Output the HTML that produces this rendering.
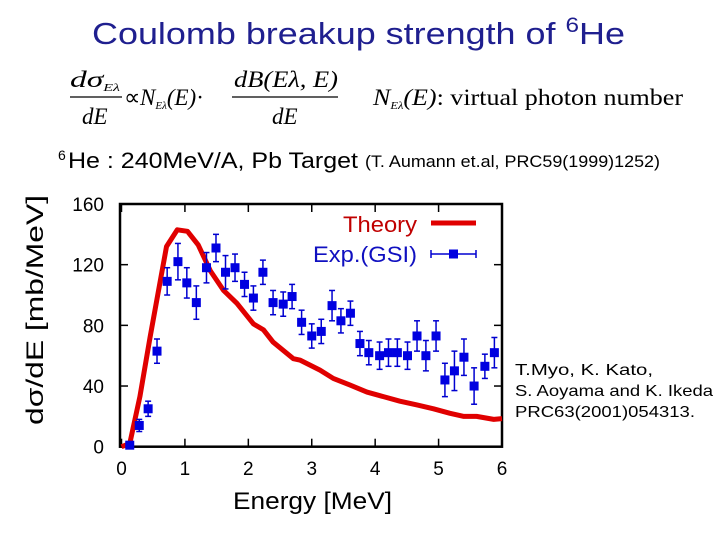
<!DOCTYPE html>
<html><head><meta charset="utf-8"><style>
html,body{margin:0;padding:0;background:#fff;}
svg{display:block;font-family:"Liberation Sans",sans-serif;}
.m{font-family:"Liberation Serif",serif;}
</style></head><body>
<svg id="c" width="720" height="540" viewBox="0 0 720 540">
<text x="92" y="44" font-size="31" fill="#1f1f8f" textLength="533" lengthAdjust="spacingAndGlyphs">Coulomb breakup strength of <tspan font-size="21" dy="-12">6</tspan><tspan dy="12">He</tspan></text>
<g class="m" font-size="23" font-style="italic">
<text x="70" y="87" textLength="50" lengthAdjust="spacingAndGlyphs">dσ<tspan font-size="11" dy="4">Eλ</tspan></text>
<line x1="70" y1="97" x2="122" y2="97" stroke="#000" stroke-width="1.3"/>
<text x="82" y="124">dE</text>
<text x="124" y="105" font-style="normal">∝</text>
<text x="140" y="105">N<tspan font-size="11" dy="4">Eλ</tspan><tspan dy="-4">(E)</tspan><tspan font-style="normal">·</tspan></text>
<text x="234" y="87" textLength="104" lengthAdjust="spacingAndGlyphs">dB(Eλ, E)</text>
<line x1="232" y1="97" x2="338" y2="97" stroke="#000" stroke-width="1.3"/>
<text x="272" y="124">dE</text>
<text x="373" y="105" textLength="310" lengthAdjust="spacingAndGlyphs">N<tspan font-size="11" dy="4">Eλ</tspan><tspan dy="-4">(E)</tspan><tspan font-style="normal">: virtual photon number</tspan></text>
</g>
<text x="58" y="160" font-size="14">6</text>
<text x="68" y="168" font-size="22" textLength="290" lengthAdjust="spacingAndGlyphs">He : 240MeV/A,  Pb Target</text>
<text x="365" y="167" font-size="17" textLength="295" lengthAdjust="spacingAndGlyphs">(T. Aumann et.al, PRC59(1999)1252)</text>
<text transform="translate(43,310) rotate(-90)" text-anchor="middle" font-size="24" textLength="230" lengthAdjust="spacingAndGlyphs">dσ/dE  [mb/MeV]</text>
<text x="233" y="509" font-size="24" textLength="159" lengthAdjust="spacingAndGlyphs">Energy  [MeV]</text>
<g font-size="16">
<text x="515" y="375" textLength="138" lengthAdjust="spacingAndGlyphs">T.Myo, K. Kato,</text>
<text x="515" y="396" textLength="198" lengthAdjust="spacingAndGlyphs">S. Aoyama and K. Ikeda</text>
<text x="515" y="417" textLength="180" lengthAdjust="spacingAndGlyphs">PRC63(2001)054313.</text>
</g>
<g id="plot"></g>
</svg>
<script>
const xTicks=[0,1,2,3,4,5,6];
const yTicks=[0,40,80,120,160];
const theoryE=[0,0.13,0.29,0.45,0.71,0.88,1.04,1.21,1.40,1.61,1.82,2.08,2.24,2.39,2.71,2.82,3.13,3.34,3.60,3.87,4.13,4.39,4.66,4.92,5.18,5.39,5.60,5.87,6.0];
const theoryV=[0,2,33,72,132,143,142,133,116,103,94.5,81,77,69,58,57,50.5,45,40.7,36,33,30,27.5,25,22,20,20,18,18.5];
const expE=[0.13,0.28,0.42,0.56,0.72,0.89,1.03,1.18,1.34,1.49,1.64,1.79,1.94,2.08,2.23,2.39,2.55,2.69,2.84,3.00,3.15,3.32,3.46,3.61,3.76,3.90,4.07,4.21,4.35,4.51,4.66,4.80,4.96,5.10,5.25,5.40,5.56,5.73,5.88];
const expV=[1,14,25,63,109,122,108,95,118,131,115,118,107,98,115,95,94,99,82,73,76,93,83,88,68,62,60,62,62,60,73,60,73,44,50,59,40,53,62];
const expErr=[1,4,5,8,9,12,10,11,10,9,11,9,8,8,8,8,8,8,8,8,8,10,8,8,8,8,9,9,9,9,10,10,10,11,13,12,12,8,10];
const L=121.5,R=502,T=204,B=446.7;
const X=v=>L+(v-0)/6*(R-L);
const Y=v=>B-v/160*(B-T);
const NS='http://www.w3.org/2000/svg';
const g=document.getElementById('plot');
function mk(t,a,p){const e=document.createElementNS(NS,t);for(const k in a)e.setAttribute(k,a[k]);(p||g).appendChild(e);return e;}
const fr=mk('rect',{x:120,y:T,width:R-120,height:B-T,fill:'none',stroke:'#000','stroke-width':2.5});


xTicks.forEach(v=>{
 mk('line',{x1:X(v),y1:B,x2:X(v),y2:B-8,stroke:'#000','stroke-width':1.5});
 mk('line',{x1:X(v),y1:T,x2:X(v),y2:T+8,stroke:'#000','stroke-width':1.5});
 const t=mk('text',{x:X(v),y:475,'text-anchor':'middle','font-size':19});t.textContent=v;
 
 
});
yTicks.forEach(v=>{
 mk('line',{x1:120,y1:Y(v),x2:128,y2:Y(v),stroke:'#000','stroke-width':1.5});
 mk('line',{x1:R,y1:Y(v),x2:R-8,y2:Y(v),stroke:'#000','stroke-width':1.5});
 const t=mk('text',{x:104,y:Y(v)+7,'text-anchor':'end','font-size':19});t.textContent=v;
 
 
});
const th=mk('polyline',{points:theoryE.map((e,i)=>X(e)+','+Y(theoryV[i])).join(' '),fill:'none',stroke:'#e00000','stroke-width':5,'stroke-linejoin':'round'});


expE.forEach((e,i)=>{
 const gg=mk('g',{});
 
 
 const x=X(e),y=Y(expV[i]),y1=Y(expV[i]+expErr[i]),y2=Y(expV[i]-expErr[i]);
 mk('line',{x1:x,y1:y1,x2:x,y2:y2,stroke:'#0000d0','stroke-width':1.5},gg);
 mk('line',{x1:x-3,y1:y1,x2:x+3,y2:y1,stroke:'#0000d0','stroke-width':1.5},gg);
 mk('line',{x1:x-3,y1:y2,x2:x+3,y2:y2,stroke:'#0000d0','stroke-width':1.5},gg);
 mk('rect',{x:x-4.5,y:y-4.5,width:9,height:9,fill:'#0000e0'},gg);
});
const lg=mk('g',{});


const t1=mk('text',{x:343,y:232,'font-size':22,fill:'#c00000',textLength:74,lengthAdjust:'spacingAndGlyphs'},lg);t1.textContent='Theory';
mk('line',{x1:431,y1:223,x2:476,y2:223,stroke:'#e00000','stroke-width':5},lg);
const t2=mk('text',{x:313,y:262,'font-size':22,fill:'#1010c0',textLength:104,lengthAdjust:'spacingAndGlyphs'},lg);t2.textContent='Exp.(GSI)';
mk('line',{x1:431,y1:254,x2:476,y2:254,stroke:'#0000d0','stroke-width':1.5},lg);
mk('line',{x1:431,y1:250,x2:431,y2:258,stroke:'#0000d0','stroke-width':1.5},lg);
mk('line',{x1:476,y1:250,x2:476,y2:258,stroke:'#0000d0','stroke-width':1.5},lg);
mk('rect',{x:449,y:249.5,width:9,height:9,fill:'#0000e0'},lg);
</script>
</body></html>
